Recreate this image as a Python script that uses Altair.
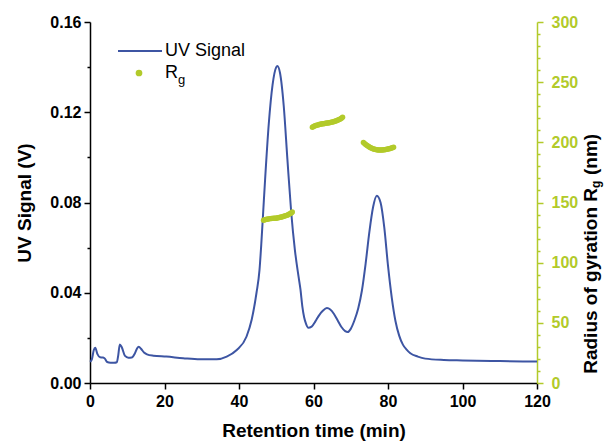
import altair as alt
import pandas as pd

# UV signal trace (retention time in min, signal in V)
uv_t = [0, 0.5, 1.0, 1.4, 2.0, 2.7, 3.5, 4.0, 4.6, 5.5, 6.5, 7.2, 7.6, 8.0, 8.5, 9.4, 10.3, 11.2, 12.0, 12.6,
        13.1, 13.7, 14.5, 15.3, 17, 20.5, 25, 29.5, 34, 36.7, 39.4, 42, 43.4, 44.7, 45.5, 46, 46.5, 47, 48, 49,
        50, 50.3, 51, 52, 53, 54, 55, 56, 56.5, 57, 57.5, 58, 58.6, 59.5, 60.5, 61.5, 62.5, 63.6, 64.5, 65.5,
        66.5, 67.5, 68.5, 69.2, 70, 71, 72, 73, 74, 75, 76, 77, 78, 79, 80, 81, 82, 83, 84, 85,
        86, 88, 90, 95, 100, 110, 120]
uv_v = [0.0094, 0.0105, 0.0145, 0.0156, 0.0128, 0.0114, 0.0113, 0.0108, 0.0093, 0.0090, 0.0090, 0.0092, 0.0125, 0.0171, 0.0160, 0.0120, 0.0112, 0.0113, 0.0130, 0.0152,
        0.0161, 0.0152, 0.0135, 0.0127, 0.0121, 0.0117, 0.0110, 0.0105, 0.0105, 0.0117, 0.0146, 0.0205, 0.0280, 0.0400, 0.0500, 0.0620, 0.0760, 0.0900, 0.1150, 0.1320,
        0.1400, 0.1405, 0.1375, 0.1230, 0.0990, 0.0760, 0.0590, 0.0470, 0.0415, 0.0340, 0.0290, 0.0262, 0.0245, 0.0250, 0.0273, 0.0300, 0.0320, 0.0332, 0.0326, 0.0306,
        0.0277, 0.0248, 0.0230, 0.0226, 0.0240, 0.0278, 0.0330, 0.0410, 0.0530, 0.0670, 0.0780, 0.0830, 0.0800, 0.0690, 0.0520, 0.0380, 0.0275, 0.0210, 0.0170, 0.0148,
        0.0132, 0.0117, 0.0108, 0.0102, 0.0100, 0.0097, 0.0095]

# Radius of gyration points (nm)
rg1_t = [46.6, 46.9, 47.2, 47.5, 47.8, 48.1, 48.4, 48.7, 49.0, 49.3, 49.6, 49.9, 50.2, 50.5, 50.8, 51.1, 51.4, 51.7, 52.0, 52.3, 52.6, 52.9, 53.2, 53.5, 53.8, 54.1, 54.3]
rg1_r = [135.2, 135.6, 135.9, 136.1, 136.3, 136.4, 136.6, 136.7, 136.8, 136.9, 137.0, 137.0, 137.2, 137.4, 137.5, 137.7, 137.9, 138.2, 138.5, 138.8, 139.1, 139.5, 139.9, 140.4, 140.9, 141.5, 142.2]
rg2_t = [59.7, 60.0, 60.3, 60.6, 60.9, 61.2, 61.5, 61.8, 62.1, 62.4, 62.7, 63.0, 63.3, 63.6, 63.9, 64.2, 64.5, 64.8, 65.1, 65.4, 65.7, 66.0, 66.3, 66.6, 66.9, 67.2, 67.5, 67.8]
rg2_r = [212.6, 213.1, 213.5, 213.9, 214.2, 214.5, 214.8, 215.0, 215.2, 215.4, 215.5, 215.6, 215.8, 216.0, 216.1, 216.3, 216.5, 216.7, 217.0, 217.2, 217.5, 217.8, 218.1, 218.5, 218.9, 219.4, 220.0, 220.8]
rg3_t = [73.4, 73.7, 74.0, 74.3, 74.6, 74.9, 75.2, 75.5, 75.8, 76.1, 76.4, 76.7, 77.0, 77.3, 77.6, 77.9, 78.2, 78.5, 78.8, 79.1, 79.4, 79.7, 80.0, 80.3, 80.6, 80.9, 81.2, 81.5]
rg3_r = [199.8, 199.0, 198.2, 197.5, 196.9, 196.3, 195.8, 195.3, 194.9, 194.5, 194.2, 194.0, 193.8, 193.7, 193.6, 193.6, 193.6, 193.7, 193.8, 193.9, 194.0, 194.2, 194.4, 194.6, 194.9, 195.2, 195.5, 195.9]

x_ticks = list(range(0, 125, 5))
y_ticks = [0, 0.02, 0.04, 0.06, 0.08, 0.10, 0.12, 0.14, 0.16]
r_ticks = list(range(0, 310, 10))

BLUE = "#3d55a3"
GREEN = "#b2ca2a"
FONT = "Liberation Sans"
W, H = 447, 361

uv_df = pd.DataFrame({"t": uv_t, "v": uv_v})
rg_df = pd.DataFrame({"t": rg1_t + rg2_t + rg3_t, "r": rg1_r + rg2_r + rg3_r})

x_enc = alt.X("t:Q", scale=alt.Scale(domain=[0, 120], nice=False),
              axis=alt.Axis(values=x_ticks, labelExpr="datum.value % 20 === 0 ? datum.label : ''",
                            tickSize={"condition": {"test": "datum.value % 20 === 0", "value": 6}, "value": 3},
                            title="Retention time (min)", titleFontSize=19, titleFontWeight="bold",
                            titlePadding=12, labelPadding=4, labelFlush=False))

line = alt.Chart(uv_df).mark_line(color=BLUE, strokeWidth=2, interpolate="monotone").encode(
    x=x_enc,
    y=alt.Y("v:Q", scale=alt.Scale(domain=[0, 0.16], nice=False),
            axis=alt.Axis(values=y_ticks, orient="left", title="UV Signal (V)",
                          labelExpr="round(datum.value*100) % 4 === 0 ? format(datum.value, '.2f') : ''",
                          tickSize={"condition": {"test": "round(datum.value*100) % 4 === 0", "value": 6}, "value": 3},
                          titleFontSize=19, titleFontWeight="bold", titlePadding=15, labelPadding=3))
)

pts = alt.Chart(rg_df).mark_circle(color=GREEN, size=30, opacity=1).encode(
    x=alt.X("t:Q", scale=alt.Scale(domain=[0, 120], nice=False)),
    y=alt.Y("r:Q", scale=alt.Scale(domain=[0, 300], nice=False),
            axis=alt.Axis(values=r_ticks, orient="right", title=None,
                          labelExpr="datum.value % 50 === 0 ? datum.label : ''",
                          tickSize={"condition": {"test": "datum.value % 50 === 0", "value": 6}, "value": 3},
                          domainColor=GREEN, tickColor=GREEN, labelColor=GREEN, labelPadding=8))
)

one = pd.DataFrame({"a": [0]})

def txt(s, x, y, size, weight="normal", angle=0, align="left", color="black", baseline="middle"):
    return alt.Chart(one).mark_text(text=s, font=FONT, fontSize=size, fontWeight=weight, angle=angle,
                                     align=align, baseline=baseline, color=color).encode(
        x=alt.value(x), y=alt.value(y))

# legend
leg_line = alt.Chart(one).mark_rule(color=BLUE, strokeWidth=2).encode(
    x=alt.value(28), x2=alt.value(72), y=alt.value(29))
leg_dot = alt.Chart(one).mark_circle(color=GREEN, size=45, opacity=1).encode(
    x=alt.value(49), y=alt.value(51))
leg1 = txt("UV Signal", 75, 29, 18)
leg2 = txt("R", 75, 51, 18)
leg2s = txt("g", 88, 58, 13)

# right axis title with subscript
rx = 501
ry = 166
rt1 = txt("Radius of gyration R", rx, ry, 19, "bold", 270, "right")
rt2 = txt("g", rx + 5, ry, 12, "bold", 270, "left")
rt3 = txt("(nm)", rx, ry - 13, 19, "bold", 270, "left")

chart = alt.layer(line, pts, leg_line, leg_dot, leg1, leg2, leg2s, rt1, rt2, rt3).resolve_scale(
    y="independent"
).properties(
    width=W, height=H,
    autosize=alt.AutoSizeParams(type="none"),
    padding={"left": 82, "top": 14, "right": 68, "bottom": 58},
).configure_view(stroke=None).configure_axis(
    labelFont=FONT, titleFont=FONT, labelFontSize=16, labelFontWeight="bold",
    domainColor="black", tickColor="black", domainWidth=1.5, tickWidth=1.5,
    grid=False, labelColor="black", titleColor="black"
)

chart.save("out.html", embed_options={"renderer": "svg", "actions": False})
